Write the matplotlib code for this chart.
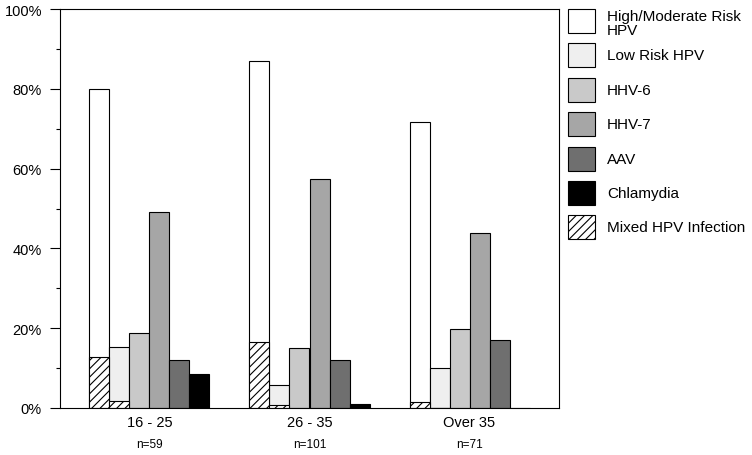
import matplotlib
matplotlib.use("Agg")
import matplotlib.pyplot as plt
from matplotlib.patches import Rectangle
import numpy as np

plt.rcParams['font.family'] = ['Liberation Sans', 'DejaVu Sans']
plt.rcParams['hatch.linewidth'] = 0.8

# data (percent of group positive)
groups = ['16 - 25', '26 - 35', 'Over 35']
n_labels = ['n=59', 'n=101', 'n=71']
high_mod = [80.0, 87.0, 71.7]
low_risk = [15.4, 5.8, 9.9]
hhv6 = [18.8, 15.0, 19.8]
hhv7 = [49.2, 57.4, 43.9]
aav = [12.0, 12.0, 17.0]
chlamydia = [8.4, 1.0, 0.0]
mixed_high = [12.7, 16.6, 1.5]   # mixed HPV part inside high/moderate bar
mixed_low = [1.8, 0.8, 0.0]      # mixed HPV part inside low risk bar

names = ['High/Moderate Risk\nHPV', 'Low Risk HPV', 'HHV-6', 'HHV-7', 'AAV',
         'Chlamydia', 'Mixed HPV Infection']
colors = ['white', '#efefef', '#c9c9c9', '#a6a6a6', '#6f6f6f', 'black']

W, H = 752, 456
fig = plt.figure(figsize=(W / 100, H / 100), dpi=100)
ax = fig.add_axes([60 / W, (H - 409) / H, (559 - 60) / W, (409 - 10) / H])

x = np.arange(len(groups))
bw = 0.125
series = [high_mod, low_risk, hhv6, hhv7, aav, chlamydia]
for k, (vals, c) in enumerate(zip(series, colors)):
    ax.bar(x + (k - 2.5) * bw, vals, bw, color=c, edgecolor='black', linewidth=0.8)

ax.bar(x - 2.5 * bw, mixed_high, bw, color='white', edgecolor='black',
       linewidth=0.8, hatch='////')
ax.bar(x - 1.5 * bw, mixed_low, bw, color='white', edgecolor='black',
       linewidth=0.8, hatch='////')

ax.set_xlim(-0.559, 2.559)
ax.set_ylim(0, 100)
ax.set_yticks(np.arange(0, 101, 20))
ax.set_yticks(np.arange(10, 100, 20), minor=True)
ax.set_yticklabels([f'{v}%' for v in range(0, 101, 20)], fontsize=10.5)
ax.tick_params(axis='y', which='major', length=7, width=0.8, pad=6)
ax.tick_params(axis='y', which='minor', length=3, width=0.8)
ax.set_xticks(x)
ax.set_xticklabels(groups, fontsize=10.5)
ax.tick_params(axis='x', length=0, pad=5)
for s in ax.spines.values():
    s.set_linewidth(0.8)

for xi, lab in zip(x, n_labels):
    ax.annotate(lab, (xi, 0), xycoords=('data', 'axes fraction'),
                xytext=(0, -26), textcoords='offset points',
                ha='center', va='center', fontsize=8.5)

# legend drawn by hand to match the original layout
for i, name in enumerate(names):
    top = 10 + i * 34.4
    hatch = '////' if i == 6 else None
    fc = 'white' if i == 6 else colors[i]
    fig.add_artist(Rectangle((568 / W, 1 - (top + 24) / H), 27 / W, 24 / H,
                             transform=fig.transFigure, facecolor=fc,
                             edgecolor='black', linewidth=0.8, hatch=hatch))
    mid = top + (14 if i == 0 else 12)
    fig.text(607 / W, 1 - mid / H, name, fontsize=11, ha='left',
             va='center', linespacing=0.95)

fig.savefig('out.png', dpi=100)
